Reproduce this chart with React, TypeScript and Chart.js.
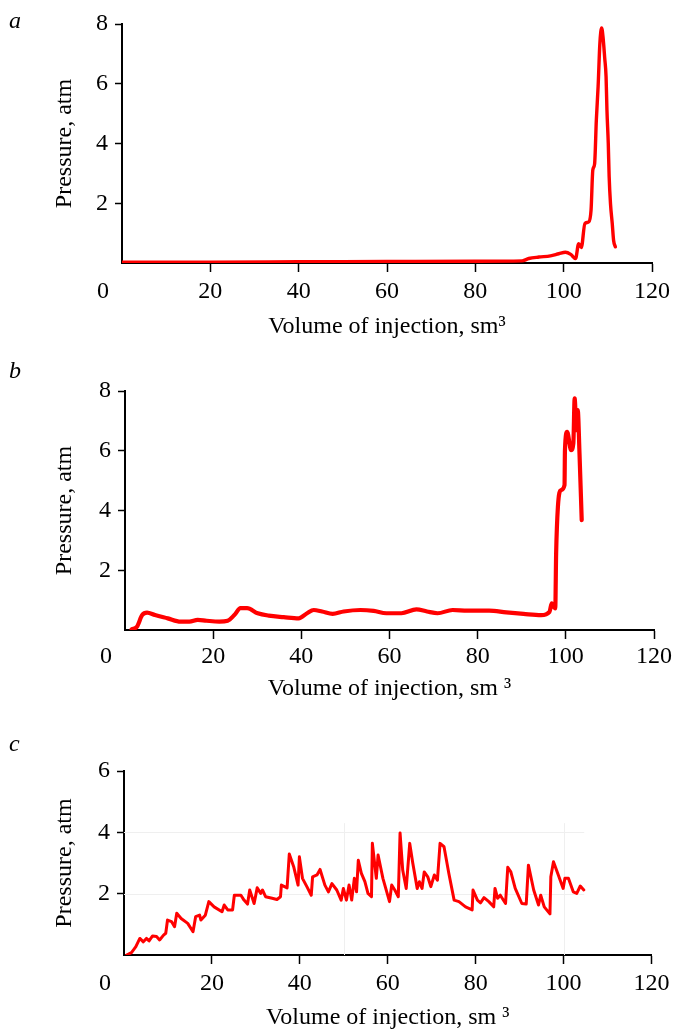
import React, { useEffect, useRef } from "react";
import { Chart, registerables } from "chart.js";

Chart.register(...registerables);

const FONT = "'Liberation Serif', 'Times New Roman', serif";
const RED = "rgb(255,0,0)";

// X axis ticks (shared)
const xTickMin = 0;
const xTickMax = 120;
const xTickStep = 20;

// Panel a
const aX = [0, 20, 40, 60, 80, 90.6, 92.1, 94.4, 97.0, 98.9, 100.4, 101.6, 102.7, 103.4, 104.0, 104.8, 105.7, 106.2, 106.6, 107.0, 107.4, 107.8, 108.2, 108.6, 108.9, 109.3, 109.6, 109.8, 110.1, 110.3, 110.6, 111.0, 111.3, 111.7];
const aY = [0.03, 0.03, 0.04, 0.05, 0.06, 0.07, 0.15, 0.2, 0.24, 0.31, 0.36, 0.29, 0.15, 0.65, 0.52, 1.32, 1.38, 1.77, 3.11, 3.31, 4.79, 5.91, 7.36, 7.87, 7.58, 6.85, 6.24, 5.12, 4.0, 2.89, 1.99, 1.32, 0.76, 0.54];

// Panel b
const bX = [1.5, 2.7, 3.9, 5.0, 6.8, 9.7, 12.6, 14.6, 16.5, 18.5, 21.4, 23.3, 24.8, 26.2, 27.7, 30.1, 32.6, 36.0, 39.4, 41.3, 42.8, 44.7, 47.1, 49.6, 53.4, 56.4, 59.3, 62.7, 66.1, 68.5, 70.9, 74.3, 77.7, 82.6, 86.5, 90.4, 94.4, 96.3, 96.8, 97.6, 97.8, 98.2, 98.9, 99.7, 99.8, 100.3, 101.2, 101.7, 102.0, 102.4, 102.7, 103.1, 103.6];
const bY = [0.02, 0.11, 0.5, 0.58, 0.5, 0.39, 0.28, 0.28, 0.34, 0.31, 0.28, 0.31, 0.5, 0.73, 0.73, 0.56, 0.48, 0.43, 0.39, 0.56, 0.67, 0.62, 0.54, 0.62, 0.67, 0.64, 0.56, 0.56, 0.69, 0.62, 0.56, 0.67, 0.65, 0.65, 0.59, 0.54, 0.5, 0.61, 0.89, 0.72, 2.56, 4.12, 4.68, 4.85, 6.02, 6.63, 6.02, 6.24, 7.75, 6.69, 7.36, 5.91, 3.68];

// Panel c
const cX = [0.6, 1.7, 2.7, 3.6, 4.4, 5.1, 5.7, 6.5, 7.4, 8.1, 9.0, 9.5, 9.9, 10.8, 11.5, 12.0, 13.0, 14.5, 15.7, 16.3, 17.2, 17.5, 18.5, 19.3, 20.5, 22.3, 22.8, 23.6, 24.7, 25.1, 26.6, 27.3, 28.1, 28.6, 29.6, 30.3, 31.1, 31.5, 32.2, 33.7, 34.8, 35.6, 35.8, 37.1, 37.6, 38.6, 39.6, 39.9, 40.6, 41.6, 42.6, 42.9, 43.9, 44.6, 45.7, 46.5, 47.3, 48.4, 49.4, 49.9, 50.6, 51.2, 51.8, 52.4, 52.9, 53.3, 54.0, 54.8, 55.5, 56.3, 56.5, 57.4, 57.8, 58.9, 60.4, 60.9, 61.6, 62.4, 62.8, 63.4, 64.2, 65.0, 65.7, 66.7, 67.2, 67.8, 68.3, 69.1, 69.8, 70.6, 71.3, 71.9, 72.8, 73.9, 75.1, 76.2, 77.7, 79.2, 79.4, 80.4, 81.1, 81.9, 83.0, 84.1, 84.4, 85.0, 85.6, 86.8, 87.3, 88.0, 89.0, 90.5, 91.5, 92.0, 93.2, 94.3, 94.8, 95.6, 96.9, 97.1, 97.7, 98.8, 99.9, 100.3, 101.1, 102.2, 103.0, 103.8, 104.6];
const cY = [0, 0.08, 0.27, 0.54, 0.43, 0.54, 0.46, 0.62, 0.6, 0.49, 0.65, 0.71, 1.14, 1.09, 0.92, 1.36, 1.19, 1.03, 0.76, 1.25, 1.30, 1.14, 1.30, 1.74, 1.57, 1.41, 1.63, 1.47, 1.47, 1.95, 1.95, 1.79, 1.66, 2.12, 1.68, 2.19, 2.01, 2.12, 1.90, 1.85, 1.81, 1.90, 2.28, 2.19, 3.29, 2.88, 2.28, 3.20, 2.50, 2.23, 1.95, 2.55, 2.61, 2.79, 2.28, 2.06, 2.33, 2.12, 1.79, 2.17, 1.79, 2.28, 1.79, 2.50, 2.06, 3.09, 2.66, 2.39, 2.01, 1.90, 3.64, 2.50, 3.26, 2.50, 1.74, 2.28, 2.12, 1.90, 3.98, 2.77, 2.17, 3.64, 2.99, 2.17, 2.39, 2.17, 2.71, 2.55, 2.23, 2.61, 2.44, 3.64, 3.53, 2.66, 1.79, 1.74, 1.57, 1.47, 2.12, 1.79, 1.70, 1.87, 1.74, 1.57, 2.17, 1.85, 1.95, 1.68, 2.86, 2.71, 2.17, 1.68, 1.66, 2.93, 2.12, 1.63, 1.95, 1.57, 1.34, 2.55, 3.04, 2.61, 2.17, 2.50, 2.50, 2.06, 2.01, 2.25, 2.12];

// Panel c faint grid (data units)
const cGridY = [2, 4];
const cGridX = [50, 100];
const cGridMaxX = 104.7;
const cGridMaxY = 4.3;

type PanelCfg = {
  xs: number[];
  ys: number[];
  yMax: number;
  letter: string;
  xTitle: string;
  top: number;
  height: number;
  areaLeft: number;
  areaTop: number;
  padRight: number;
  xAxisH: number;
  xPad: number;
  xTitlePadBottom: number;
  lineWidth: number;
  smooth: boolean;
  letterY: number;
  grid?: boolean;
};

const panels: PanelCfg[] = [
  {
    xs: aX, ys: aY, yMax: 8, letter: "a", xTitle: "Volume of injection, sm\u00B3",
    top: 0, height: 345, areaLeft: 122, areaTop: 24, padRight: 21.7, xAxisH: 82,
    xPad: 5, xTitlePadBottom: 6, lineWidth: 3.4, smooth: true, letterY: 28,
  },
  {
    xs: bX, ys: bY, yMax: 8, letter: "b", xTitle: "Volume of injection, sm \u00B3",
    top: 345, height: 360, areaLeft: 125, areaTop: 46, padRight: 17.5, xAxisH: 75,
    xPad: 3, xTitlePadBottom: 4, lineWidth: 4.2, smooth: true, letterY: 33,
  },
  {
    xs: cX, ys: cY, yMax: 6, letter: "c", xTitle: "Volume of injection, sm \u00B3",
    top: 705, height: 325, areaLeft: 124, areaTop: 66, padRight: 20.2, xAxisH: 75,
    xPad: 5.5, xTitlePadBottom: 0, lineWidth: 3, smooth: false, letterY: 46, grid: true,
  },
];

function makeChart(canvas: HTMLCanvasElement, p: PanelCfg) {
  const extras = {
    id: "extras",
    beforeDatasetsDraw(chart: any) {
      if (!p.grid) return;
      const ctx = chart.ctx;
      const xs = chart.scales.x;
      const ys = chart.scales.y;
      ctx.save();
      ctx.strokeStyle = "#efefef";
      ctx.lineWidth = 1;
      ctx.beginPath();
      cGridY.forEach((v) => {
        const py = Math.round(ys.getPixelForValue(v)) + 0.5;
        ctx.moveTo(xs.getPixelForValue(0), py);
        ctx.lineTo(xs.getPixelForValue(cGridMaxX), py);
      });
      cGridX.forEach((v) => {
        const px = Math.round(xs.getPixelForValue(v)) + 0.5;
        ctx.moveTo(px, ys.getPixelForValue(0));
        ctx.lineTo(px, ys.getPixelForValue(cGridMaxY));
      });
      ctx.stroke();
      ctx.restore();
    },
    afterDraw(chart: any) {
      const ctx = chart.ctx;
      const xs = chart.scales.x;
      ctx.save();
      ctx.fillStyle = "#000";
      ctx.font = `24px ${FONT}`;
      ctx.textAlign = "center";
      ctx.textBaseline = "middle";
      const y = xs.top + 9 + p.xPad + (24 * 1.2) / 2;
      ctx.fillText("0", xs.getPixelForValue(0) - 19, y);
      ctx.font = `italic 24px ${FONT}`;
      ctx.textAlign = "left";
      ctx.textBaseline = "alphabetic";
      ctx.fillText(p.letter, 9, p.letterY);
      ctx.restore();
    },
  };

  const hideZero = (c: any) => (c.tick && c.tick.value === 0 ? "rgba(0,0,0,0)" : "#000");

  return new Chart(canvas, {
    type: "line",
    data: {
      datasets: [
        {
          data: p.xs.map((x, i) => ({ x, y: p.ys[i] })),
          borderColor: RED,
          backgroundColor: RED,
          borderWidth: p.lineWidth,
          pointRadius: 0,
          fill: false,
          tension: p.smooth ? 0.4 : 0,
          cubicInterpolationMode: p.smooth ? "monotone" : "default",
          borderJoinStyle: "round",
          borderCapStyle: "round",
        },
      ],
    },
    options: {
      animation: false,
      responsive: false,
      maintainAspectRatio: false,
      layout: { padding: { left: 0, right: p.padRight, top: p.areaTop, bottom: 0 } },
      plugins: { legend: { display: false }, tooltip: { enabled: false }, title: { display: false } },
      scales: {
        x: {
          type: "linear",
          min: xTickMin,
          max: xTickMax,
          border: { display: true, color: "#000", width: 2 },
          grid: {
            display: true,
            drawOnChartArea: false,
            drawTicks: true,
            tickLength: 9,
            tickWidth: 1.5,
            tickColor: hideZero,
          },
          ticks: {
            stepSize: xTickStep,
            autoSkip: false,
            maxRotation: 0,
            color: "#000",
            padding: p.xPad,
            font: { family: FONT, size: 24 },
            callback: (v: any) => (v === 0 ? "" : String(v)),
          },
          title: {
            display: true,
            text: p.xTitle,
            color: "#000",
            font: { family: FONT, size: 24, lineHeight: 1 },
            padding: { top: 0, bottom: p.xTitlePadBottom },
          },
          afterFit: (s: any) => {
            s.height = p.xAxisH;
          },
        },
        y: {
          type: "linear",
          min: 0,
          max: p.yMax,
          border: { display: true, color: "#000", width: 2 },
          grid: {
            display: true,
            drawOnChartArea: false,
            drawTicks: true,
            tickLength: 7,
            tickWidth: 1.5,
            tickColor: hideZero,
          },
          ticks: {
            stepSize: 2,
            color: "#000",
            padding: 7,
            font: { family: FONT, size: 24 },
            callback: (v: any) => (v === 0 ? "" : String(v)),
          },
          title: {
            display: true,
            text: "Pressure, atm",
            color: "#000",
            font: { family: FONT, size: 24, lineHeight: 1 },
            padding: { top: 53, bottom: 0 },
          },
          afterFit: (s: any) => {
            s.width = p.areaLeft;
          },
        },
      },
    } as any,
    plugins: [extras as any],
  });
}

function Panel({ cfg }: { cfg: PanelCfg }) {
  const ref = useRef<HTMLCanvasElement | null>(null);
  useEffect(() => {
    if (!ref.current) return;
    const chart = makeChart(ref.current, cfg);
    return () => chart.destroy();
  }, [cfg]);
  return (
    <canvas
      ref={ref}
      width={675}
      height={cfg.height}
      style={{ position: "absolute", left: 0, top: cfg.top, width: 675, height: cfg.height, display: "block" }}
    />
  );
}

export default function App() {
  return (
    <div
      style={{
        position: "absolute",
        left: 0,
        top: 0,
        width: 675,
        height: 1030,
        overflow: "hidden",
        background: "#fff",
      }}
    >
      {panels.map((p) => (
        <Panel key={p.letter} cfg={p} />
      ))}
    </div>
  );
}
